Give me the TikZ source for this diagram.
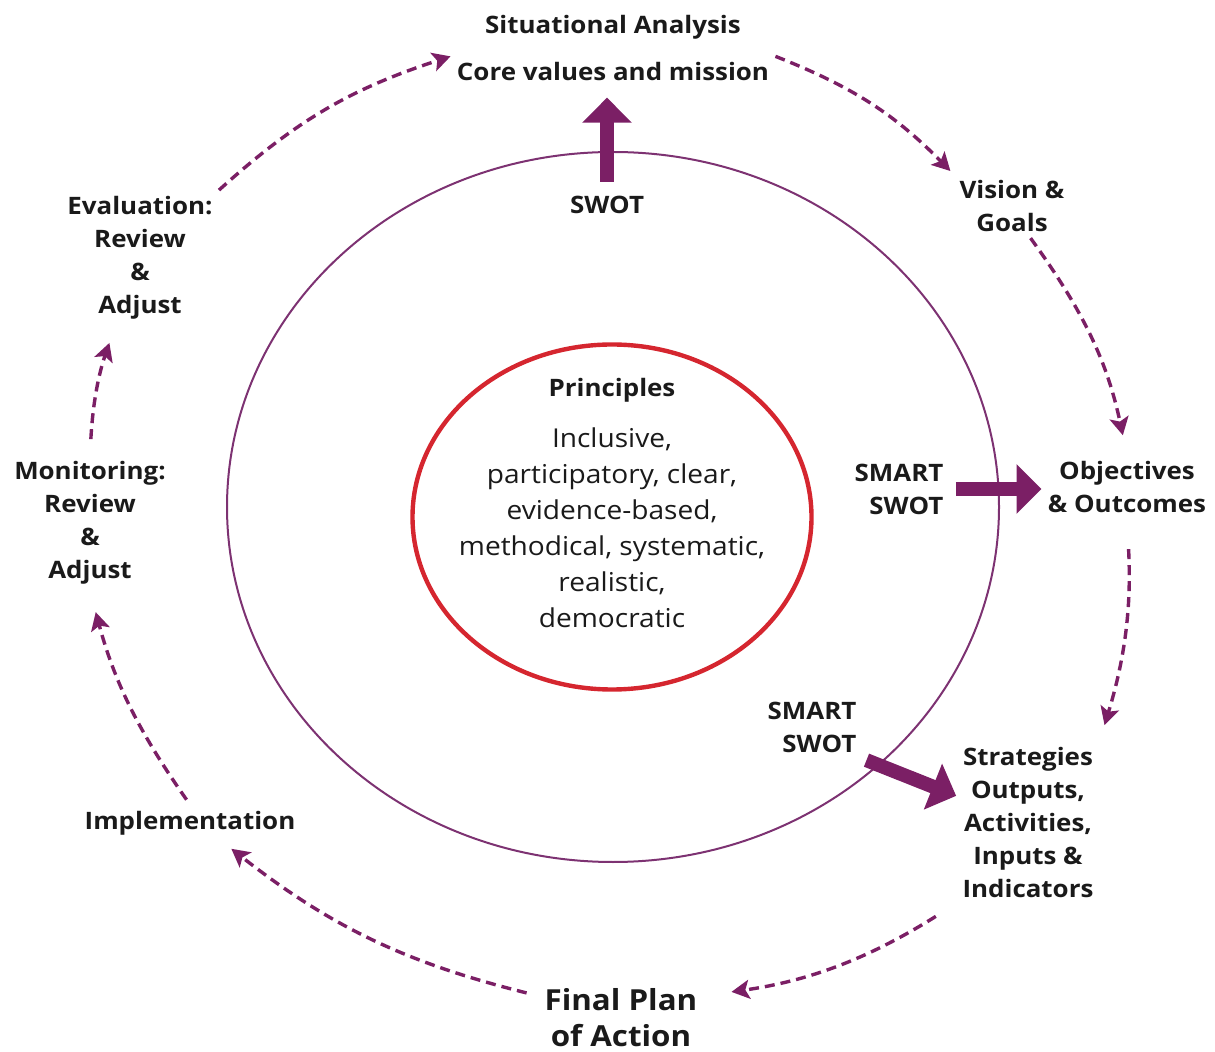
\documentclass[tikz,border=0pt]{standalone}
\usepackage{fontspec}
\setmainfont{Open Sans}[FakeStretch=1.08]
\usepackage{xcolor}
\usetikzlibrary{arrows.meta,positioning,calc}

\definecolor{plum}{HTML}{7B1F65}
\definecolor{ringcol}{HTML}{7D3272}
\definecolor{redring}{HTML}{D5262F}
\definecolor{ink}{HTML}{1A1A1A}

\begin{document}
\begin{tikzpicture}[
  x=0.5pt, y=-0.5pt,
  font=\bfseries\fontsize{12}{16.5}\selectfont,
  stage/.style={align=center, inner sep=3pt, text=ink},
  cyc/.style={plum, line width=1.7pt, dash pattern=on 5pt off 3pt,
    -{Stealth[length=9pt, width=9.5pt, inset=2pt]}, bend left=#1},
  cyc/.default=15,
  bigarrow/.style={plum, line width=7pt, -{Triangle[length=12.5pt, width=24pt]}}
]
  \useasboundingbox (0,0) rectangle (1215,1052);

  % rings
  \draw[ringcol, line width=1pt] (613,507) ellipse [x radius=193pt, y radius=177.5pt];
  \draw[redring, line width=2.2pt] (612,517) ellipse [x radius=99.75pt, y radius=86.25pt];

  % centre
  \node[stage] (princ) at (612,390) {Principles};
  \node[stage, font=\mdseries\fontsize{13}{18}\selectfont] (princtext) at (612,528)
    {Inclusive,\\participatory, clear,\\evidence-based,\\methodical, systematic,\\realistic,\\democratic};

  % stages round the cycle
  \node[stage] (core) at (613,72) {Core values and mission};
  \node[stage, above=5.5pt of core] (sit) {Situational Analysis};
  \node[stage] (vision) at (1012,206) {Vision \&\\Goals};
  \node[stage] (obj) at (1127,487) {Objectives\\\& Outcomes};
  \node[stage] (strat) at (1028,822) {Strategies\\Outputs,\\Activities,\\Inputs \&\\Indicators};
  \node[stage, font=\bfseries\fontsize{14.5}{18}\selectfont] (final) at (621,1018) {Final Plan\\of Action};
  \node[stage] (impl) at (190,823) {Implementation};
  \node[stage] (monit) at (90,523) {Monitoring:\\Review\\\&\\Adjust};
  \node[stage] (eval) at (140,258) {Evaluation:\\Review\\\&\\Adjust};

  % tools inside the ring
  \node[stage] (swot) at (607,205) {SWOT};
  \node[stage, align=right] (smartA) at (899,489) {SMART\\SWOT};
  \node[stage, align=right] (smartB) at (812,727) {SMART\\SWOT};

  \draw[bigarrow, shorten <=4pt, shorten >=5pt] (swot.north) -- (swot.north |- core.south);
  \draw[bigarrow, shorten <=3pt] (smartA.east) -- (smartA.east -| obj.west);
  \draw[bigarrow, shorten <=2pt] (smartB.south east) -- (strat.160);

  % dashed cycle
  \draw[cyc=12] (eval.north east) to (core.north west);
  \draw[cyc=12, shorten >=2pt] (core.north east) to (vision.north west);
  \draw[cyc=12, shorten >=10pt] (vision.-60) to (obj.north);
  \draw[cyc=10, shorten <=15pt, shorten >=8pt] (obj.south) to (strat.north east);
  \draw[cyc=12, shorten <=12pt, shorten >=14pt] (strat.south west) to (final.15);
  \draw[cyc=12, shorten <=6pt, shorten >=6pt] (final.165) to (impl.-30);
  \draw[cyc=10, shorten <=3pt, shorten >=11pt] (impl.north) to (monit.south);
  \draw[cyc=8, shorten <=8pt, shorten >=9pt] (monit.north) to (eval.-110);
\end{tikzpicture}
\end{document}
